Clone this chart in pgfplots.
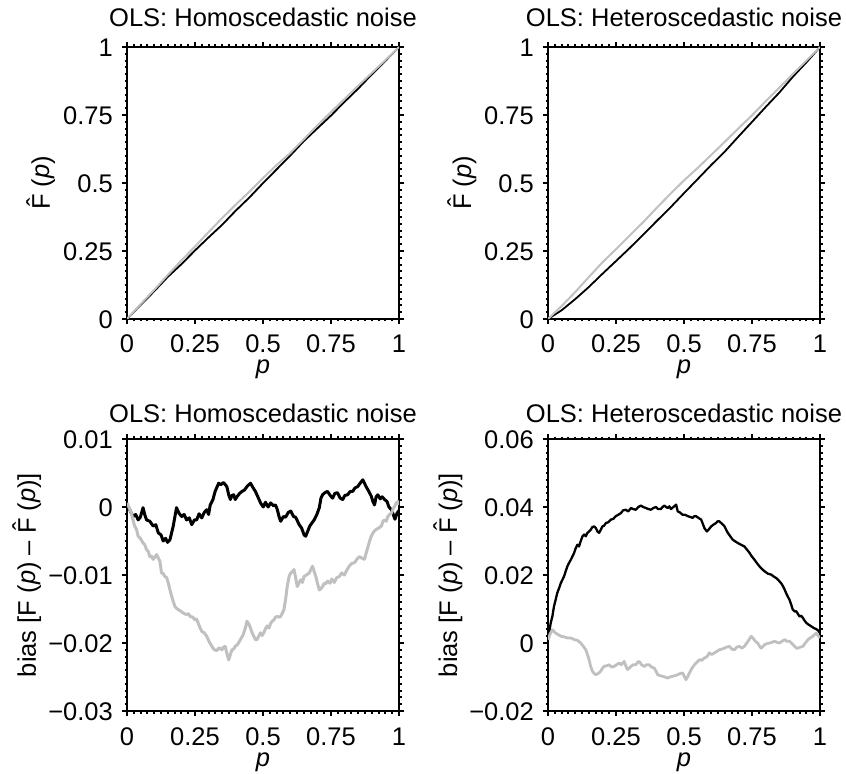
\documentclass[border=0pt]{standalone}
\usepackage{fontspec}
\setmainfont{Liberation Sans}
\usepackage{pgfplots}
\pgfplotsset{compat=1.18}

\definecolor{lightgrey}{RGB}{192,192,192}

% F with a circumflex above it
\newcommand{\Fhat}{\leavevmode\hbox{\ooalign{F\cr\hidewidth\raisebox{0.2em}{\char"02C6}\hidewidth\cr}}}
\newcommand{\bigfont}{\fontsize{25.5bp}{30bp}\selectfont}

\pgfplotsset{
  olsaxis/.style={
    scale only axis, width=272bp, height=272bp,
    xmin=0, xmax=1,
    axis line style={line width=2.6bp},
    tick align=outside, tick pos=both,
    major tick length=5bp, minor tick length=2.5bp,
    every tick/.style={black, line width=2bp},
    minor tick num=9,
    scaled y ticks=false, scaled x ticks=false,
    xtick={0,0.25,0.5,0.75,1}, xticklabels={0,0.25,0.5,0.75,1},
    tick label style={font=\bigfont},
    xticklabel style={anchor=base, inner sep=0pt, yshift=-29bp},
    yticklabel style={anchor=base east, inner sep=0pt, xshift=-9bp, yshift=-9.3bp},
    xlabel={\textit{p}},
    xlabel style={at={(axis description cs:0.5,0)}, anchor=base, yshift=-55bp, font=\bigfont, inner sep=0pt},
    ylabel style={at={(axis description cs:0,0.5)}, anchor=base, font=\bigfont, inner sep=0pt},
    every axis title shift=0pt,
    title style={at={(axis description cs:0.5,1)}, anchor=base, font=\bigfont, inner sep=0pt},
    line join=round,
  },
  toprow/.style={ymin=0, ymax=1,
    ytick={0,0.25,0.5,0.75,1}, yticklabels={0,0.25,0.5,0.75,1},
    ylabel={\Fhat{} (\textit{p})},
    ylabel style={yshift=77bp},
    title style={yshift=20bp}},
  botrow/.style={
    ylabel={bias [F (\textit{p}) – \Fhat{} (\textit{p})]},
    ylabel style={yshift=91bp},
    title style={yshift=17bp}},
}

\begin{document}
\begin{tikzpicture}
\path[use as bounding box] (0,0) rectangle (846bp,774bp);

% ---------- top left: estimated CDF, homoscedastic noise ----------
\begin{axis}[olsaxis, toprow, at={(127bp,455bp)}, anchor=south west,
  title={OLS: Homoscedastic noise}]
\addplot[black, line width=1.8bp] coordinates {
(0,0) (0.05,0.0515) (0.1,0.102) (0.15,0.155) (0.2,0.2015) (0.25,0.252)
(0.3,0.3) (0.35,0.3465) (0.4,0.3985) (0.45,0.4467) (0.5,0.4995)
(0.55,0.55) (0.6,0.6006) (0.65,0.6538) (0.7,0.701) (0.75,0.748)
(0.8,0.7985) (0.85,0.847) (0.9,0.899) (0.95,0.949) (1,1)};
\addplot[lightgrey, line width=2bp] coordinates {
(0,0) (0.05,0.0545) (0.1,0.107) (0.15,0.162) (0.2,0.2155) (0.25,0.2665)
(0.3,0.3195) (0.35,0.371) (0.4,0.4205) (0.45,0.468) (0.5,0.518)
(0.55,0.566) (0.6,0.6097) (0.65,0.6605) (0.7,0.712) (0.75,0.761)
(0.8,0.8093) (0.85,0.8575) (0.9,0.9045) (0.95,0.9518) (1,1)};
\end{axis}

% ---------- top right: estimated CDF, heteroscedastic noise ----------
\begin{axis}[olsaxis, toprow, at={(548bp,455bp)}, anchor=south west,
  title={OLS: Heteroscedastic noise}]
\addplot[black, line width=1.8bp] coordinates {
(0,0) (0.05,0.032) (0.1,0.073) (0.15,0.1175) (0.2,0.166) (0.25,0.213)
(0.3,0.2605) (0.35,0.31) (0.4,0.3605) (0.45,0.41) (0.5,0.4625)
(0.55,0.514) (0.6,0.566) (0.65,0.6155) (0.7,0.6705) (0.75,0.7245)
(0.8,0.779) (0.85,0.832) (0.9,0.8902) (0.95,0.9435) (1,1)};
\addplot[lightgrey, line width=2bp] coordinates {
(0,0) (0.05,0.0475) (0.1,0.099) (0.15,0.154) (0.2,0.208) (0.25,0.2565)
(0.3,0.3065) (0.35,0.356) (0.4,0.409) (0.45,0.4602) (0.5,0.5095)
(0.55,0.555) (0.6,0.603) (0.65,0.6515) (0.7,0.701) (0.75,0.7485)
(0.8,0.8) (0.85,0.85) (0.9,0.9005) (0.95,0.95) (1,1)};
\end{axis}

% ---------- bottom left: bias, homoscedastic noise ----------
\begin{axis}[olsaxis, botrow, at={(127bp,63bp)}, anchor=south west,
  title={OLS: Homoscedastic noise},
  ymin=-0.03, ymax=0.01,
  ytick={-0.03,-0.02,-0.01,0,0.01}, yticklabels={−0.03,−0.02,−0.01,0,0.01}]
\addplot[black, line width=3bp] coordinates {
(0,0.0002) (0.010,-0.0004) (0.022,-0.0014) (0.032,-0.0011) (0.041,-0.0019)
(0.049,-0.0015) (0.059,-0.0001) (0.065,-0.0011) (0.072,-0.0019) (0.084,-0.0021)
(0.096,-0.0028) (0.106,-0.0026) (0.115,-0.0038) (0.125,-0.0041) (0.133,-0.0050)
(0.142,-0.0046) (0.149,-0.0052) (0.158,-0.0048) (0.170,-0.0028) (0.182,-0.0001)
(0.191,-0.0009) (0.201,-0.0014) (0.210,-0.0011) (0.219,-0.0019) (0.229,-0.0016)
(0.238,-0.0026) (0.248,-0.0019) (0.256,-0.0019) (0.265,-0.0010) (0.275,-0.0016)
(0.284,-0.0008) (0.293,-0.0004) (0.300,-0.0011) (0.306,0.0003) (0.316,0.0011)
(0.324,0.0023) (0.337,0.0035) (0.345,0.0033) (0.355,0.0036) (0.367,0.0030)
(0.374,0.0018) (0.380,0.0011) (0.386,0.0017) (0.392,0.0018) (0.398,0.0011)
(0.404,0.0015) (0.414,0.0020) (0.423,0.0023) (0.432,0.0025) (0.441,0.0030)
(0.454,0.0035) (0.464,0.0028) (0.472,0.0023) (0.481,0.0015) (0.491,0.0006)
(0.501,0.0000) (0.509,0.0007) (0.519,0.0000) (0.528,0.0006) (0.538,0.0002)
(0.546,0.0003) (0.552,-0.0003) (0.559,-0.0014) (0.565,-0.0021) (0.575,-0.0014)
(0.583,-0.0015) (0.593,-0.0008) (0.602,-0.0006) (0.612,-0.0014) (0.620,-0.0015)
(0.633,-0.0026) (0.642,-0.0031) (0.651,-0.0041) (0.657,-0.0043) (0.663,-0.0037)
(0.672,-0.0028) (0.679,-0.0024) (0.688,-0.0019) (0.698,-0.0011) (0.707,-0.0001)
(0.713,0.0013) (0.719,0.0018) (0.727,0.0021) (0.737,0.0023) (0.747,0.0017)
(0.756,0.0013) (0.764,0.0020) (0.774,0.0021) (0.784,0.0013) (0.793,0.0011)
(0.801,0.0017) (0.811,0.0018) (0.821,0.0023) (0.830,0.0023) (0.838,0.0028)
(0.848,0.0030) (0.857,0.0035) (0.867,0.0040) (0.873,0.0035) (0.879,0.0030)
(0.889,0.0023) (0.898,0.0016) (0.904,0.0008) (0.910,0.0003) (0.916,0.0015)
(0.922,0.0018) (0.931,0.0012) (0.938,0.0015) (0.947,0.0011) (0.956,0.0008)
(0.963,0.0000) (0.972,-0.0004) (0.979,-0.0011) (0.985,-0.0018) (0.993,-0.0009)
(1.000,-0.0005)};
\addplot[lightgrey, line width=3bp] coordinates {
(0,0.0006) (0.007,0.0000) (0.016,-0.0009) (0.022,-0.0019) (0.028,-0.0028)
(0.035,-0.0033) (0.041,-0.0043) (0.049,-0.0046) (0.059,-0.0053) (0.065,-0.0055)
(0.072,-0.0063) (0.078,-0.0065) (0.084,-0.0073) (0.090,-0.0072) (0.096,-0.0077)
(0.102,-0.0074) (0.109,-0.0070) (0.115,-0.0075) (0.121,-0.0080) (0.127,-0.0097)
(0.133,-0.0098) (0.139,-0.0102) (0.146,-0.0104) (0.152,-0.0112) (0.158,-0.0122)
(0.164,-0.0131) (0.170,-0.0139) (0.176,-0.0146) (0.182,-0.0149) (0.189,-0.0151)
(0.197,-0.0153) (0.207,-0.0156) (0.217,-0.0158) (0.226,-0.0157) (0.232,-0.0161)
(0.242,-0.0162) (0.250,-0.0166) (0.256,-0.0165) (0.263,-0.0172) (0.269,-0.0178)
(0.275,-0.0183) (0.284,-0.0185) (0.293,-0.0190) (0.302,-0.0198) (0.312,-0.0205)
(0.321,-0.0210) (0.330,-0.0211) (0.339,-0.0207) (0.349,-0.0210) (0.355,-0.0206)
(0.361,-0.0205) (0.367,-0.0215) (0.374,-0.0225) (0.380,-0.0217) (0.386,-0.0210)
(0.392,-0.0209) (0.398,-0.0205) (0.407,-0.0202) (0.417,-0.0195) (0.427,-0.0188)
(0.435,-0.0178) (0.441,-0.0168) (0.448,-0.0172) (0.454,-0.0178) (0.460,-0.0185)
(0.466,-0.0190) (0.472,-0.0195) (0.478,-0.0195) (0.485,-0.0189) (0.491,-0.0185)
(0.497,-0.0189) (0.503,-0.0185) (0.509,-0.0179) (0.515,-0.0175) (0.522,-0.0178)
(0.528,-0.0171) (0.534,-0.0168) (0.540,-0.0166) (0.546,-0.0162) (0.552,-0.0161)
(0.559,-0.0162) (0.565,-0.0161) (0.571,-0.0156) (0.577,-0.0151) (0.583,-0.0136)
(0.589,-0.0117) (0.596,-0.0102) (0.602,-0.0097) (0.608,-0.0095) (0.614,-0.0092)
(0.620,-0.0104) (0.626,-0.0117) (0.633,-0.0111) (0.639,-0.0107) (0.645,-0.0111)
(0.651,-0.0102) (0.660,-0.0100) (0.670,-0.0097) (0.676,-0.0092) (0.682,-0.0087)
(0.688,-0.0095) (0.694,-0.0102) (0.700,-0.0112) (0.707,-0.0122) (0.713,-0.0120)
(0.719,-0.0117) (0.725,-0.0112) (0.731,-0.0113) (0.737,-0.0109) (0.746,-0.0112)
(0.753,-0.0106) (0.762,-0.0111) (0.771,-0.0104) (0.781,-0.0102) (0.789,-0.0097)
(0.799,-0.0100) (0.808,-0.0093) (0.817,-0.0087) (0.826,-0.0083) (0.836,-0.0082)
(0.845,-0.0077) (0.854,-0.0073) (0.863,-0.0075) (0.873,-0.0077) (0.879,-0.0068)
(0.885,-0.0060) (0.892,-0.0050) (0.898,-0.0043) (0.906,-0.0037) (0.916,-0.0033)
(0.925,-0.0031) (0.935,-0.0028) (0.941,-0.0021) (0.947,-0.0019) (0.953,-0.0021)
(0.959,-0.0014) (0.965,-0.0011) (0.972,-0.0009) (0.978,-0.0003) (0.984,0.0001)
(0.990,0.0006) (0.996,0.0008) (1.000,0.0003)};
\end{axis}

% ---------- bottom right: bias, heteroscedastic noise ----------
\begin{axis}[olsaxis, botrow, at={(548bp,63bp)}, anchor=south west,
  title={OLS: Heteroscedastic noise},
  ymin=-0.02, ymax=0.06,
  ytick={-0.02,0,0.02,0.04,0.06}, yticklabels={−0.02,0,0.02,0.04,0.06}]
\addplot[black, line width=2.3bp] coordinates {
(0,0.0015) (0.005,0.0034) (0.010,0.0059) (0.016,0.0078) (0.022,0.0108)
(0.028,0.0127) (0.034,0.0147) (0.041,0.0162) (0.047,0.0176) (0.053,0.0186)
(0.059,0.0196) (0.065,0.0211) (0.071,0.0225) (0.077,0.0235) (0.084,0.0245)
(0.090,0.0255) (0.096,0.0265) (0.102,0.0279) (0.108,0.0289) (0.114,0.0284)
(0.120,0.0299) (0.127,0.0314) (0.133,0.0319) (0.139,0.0314) (0.145,0.0324)
(0.151,0.0328) (0.157,0.0333) (0.163,0.0341) (0.170,0.0343) (0.176,0.0338)
(0.182,0.0328) (0.188,0.0324) (0.194,0.0333) (0.200,0.0343) (0.206,0.0345)
(0.213,0.0353) (0.221,0.0355) (0.231,0.0363) (0.240,0.0365) (0.249,0.0373)
(0.258,0.0377) (0.268,0.0382) (0.276,0.0390) (0.286,0.0392) (0.295,0.0387)
(0.305,0.0397) (0.313,0.0394) (0.323,0.0392) (0.332,0.0400) (0.342,0.0404)
(0.350,0.0400) (0.360,0.0397) (0.369,0.0394) (0.378,0.0392) (0.387,0.0397)
(0.397,0.0400) (0.405,0.0394) (0.415,0.0394) (0.421,0.0400) (0.428,0.0404)
(0.434,0.0400) (0.440,0.0397) (0.446,0.0402) (0.452,0.0394) (0.461,0.0400)
(0.471,0.0407) (0.477,0.0387) (0.485,0.0384) (0.495,0.0377) (0.504,0.0377)
(0.514,0.0373) (0.522,0.0371) (0.532,0.0368) (0.538,0.0373) (0.544,0.0373)
(0.553,0.0368) (0.563,0.0363) (0.569,0.0351) (0.575,0.0338) (0.584,0.0328)
(0.590,0.0333) (0.600,0.0343) (0.608,0.0348) (0.618,0.0353) (0.624,0.0358)
(0.630,0.0358) (0.639,0.0351) (0.649,0.0343) (0.655,0.0333) (0.661,0.0324)
(0.670,0.0314) (0.679,0.0304) (0.688,0.0299) (0.698,0.0294) (0.710,0.0289)
(0.722,0.0284) (0.731,0.0275) (0.741,0.0265) (0.749,0.0255) (0.759,0.0245)
(0.768,0.0235) (0.778,0.0225) (0.786,0.0218) (0.796,0.0211) (0.808,0.0204)
(0.821,0.0201) (0.829,0.0196) (0.839,0.0191) (0.848,0.0184) (0.857,0.0176)
(0.864,0.0167) (0.870,0.0157) (0.878,0.0142) (0.888,0.0127) (0.894,0.0113)
(0.900,0.0098) (0.907,0.0093) (0.913,0.0093) (0.919,0.0085) (0.925,0.0078)
(0.931,0.0080) (0.937,0.0074) (0.943,0.0066) (0.950,0.0059) (0.958,0.0054)
(0.968,0.0049) (0.977,0.0044) (0.986,0.0041) (0.993,0.0037) (1.000,0.0029)};
\addplot[lightgrey, line width=2.8bp] coordinates {
(0,0.0010) (0.007,0.0025) (0.016,0.0039) (0.022,0.0034) (0.028,0.0029)
(0.037,0.0025) (0.047,0.0020) (0.059,0.0018) (0.071,0.0015) (0.084,0.0015)
(0.096,0.0010) (0.108,0.0008) (0.120,0.0000) (0.130,-0.0010) (0.139,-0.0020)
(0.145,-0.0034) (0.151,-0.0049) (0.157,-0.0069) (0.163,-0.0083) (0.170,-0.0090)
(0.176,-0.0093) (0.184,-0.0090) (0.194,-0.0083) (0.200,-0.0074) (0.206,-0.0069)
(0.215,-0.0067) (0.225,-0.0064) (0.233,-0.0071) (0.243,-0.0069) (0.252,-0.0064)
(0.262,-0.0059) (0.270,-0.0064) (0.280,-0.0054) (0.286,-0.0067) (0.292,-0.0078)
(0.299,-0.0074) (0.305,-0.0069) (0.313,-0.0064) (0.323,-0.0064) (0.329,-0.0057)
(0.335,-0.0054) (0.344,-0.0064) (0.354,-0.0069) (0.362,-0.0064) (0.372,-0.0064)
(0.381,-0.0071) (0.391,-0.0074) (0.397,-0.0083) (0.403,-0.0093) (0.412,-0.0096)
(0.421,-0.0098) (0.430,-0.0100) (0.440,-0.0103) (0.448,-0.0100) (0.458,-0.0098)
(0.467,-0.0096) (0.477,-0.0093) (0.485,-0.0090) (0.495,-0.0088) (0.501,-0.0098)
(0.507,-0.0108) (0.514,-0.0098) (0.520,-0.0088) (0.528,-0.0076) (0.538,-0.0064)
(0.547,-0.0057) (0.557,-0.0049) (0.565,-0.0051) (0.575,-0.0044) (0.584,-0.0041)
(0.593,-0.0029) (0.602,-0.0034) (0.612,-0.0029) (0.620,-0.0025) (0.630,-0.0020)
(0.639,-0.0018) (0.649,-0.0015) (0.657,-0.0012) (0.667,-0.0010) (0.676,-0.0018)
(0.686,-0.0020) (0.694,-0.0012) (0.704,-0.0010) (0.713,-0.0015) (0.722,-0.0010)
(0.729,-0.0002) (0.735,0.0005) (0.741,0.0012) (0.747,0.0020) (0.753,0.0015)
(0.762,0.0005) (0.771,0.0000) (0.778,-0.0010) (0.784,-0.0015) (0.790,-0.0010)
(0.796,-0.0005) (0.805,-0.0002) (0.815,0.0000) (0.823,0.0002) (0.833,0.0005)
(0.842,0.0002) (0.851,0.0000) (0.860,0.0005) (0.870,0.0010) (0.878,0.0005)
(0.888,0.0005) (0.897,-0.0002) (0.907,-0.0010) (0.913,-0.0015) (0.919,-0.0015)
(0.928,-0.0012) (0.937,-0.0010) (0.946,0.0000) (0.956,0.0010) (0.964,0.0015)
(0.974,0.0020) (0.980,0.0025) (0.986,0.0029) (0.993,0.0022) (1.000,0.0015)};
\end{axis}
\end{tikzpicture}
\end{document}
